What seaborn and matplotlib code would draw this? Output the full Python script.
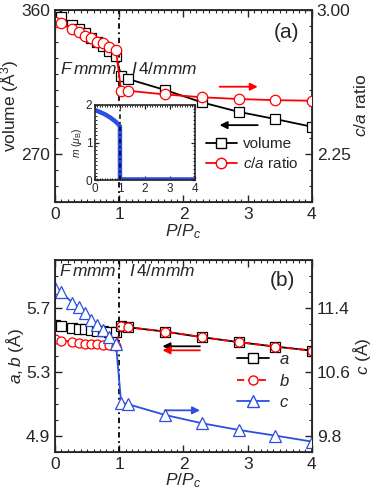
import numpy as np
import pandas as pd
import matplotlib
matplotlib.use("Agg")
import matplotlib.pyplot as plt
from matplotlib.ticker import MultipleLocator, AutoMinorLocator, FixedLocator
from matplotlib.lines import Line2D
import seaborn as sns

# ---------- data ----------
p_low = [0.0, 0.086, 0.27, 0.37, 0.47, 0.56, 0.65, 0.745, 0.845, 0.95]
p_high = [1.03, 1.14, 1.71, 2.29, 2.86, 3.43, 4.0]

volume = [357.0, 355.4, 350.5, 348.0, 345.3, 342.5, 340.0, 337.5, 334.5, 331.0,
          318.7, 316.8, 310.0, 302.2, 296.3, 291.8, 287.0]
ca_ratio = [2.935, 2.930, 2.900, 2.884, 2.866, 2.852, 2.835, 2.826, 2.809, 2.790,
            2.579, 2.579, 2.560, 2.545, 2.536, 2.530, 2.527]

a_len = [5.594, 5.588, 5.573, 5.569, 5.567, 5.562, 5.558, 5.556, 5.552, 5.550,
         5.588, 5.579, 5.552, 5.517, 5.486, 5.458, 5.433]
b_len = [5.504, 5.496, 5.490, 5.479, 5.475, 5.475, 5.473, 5.469, 5.469, 5.4625,
         5.588, 5.579, 5.552, 5.517, 5.486, 5.458, 5.433]
c_len = [11.646, 11.604, 11.466, 11.409, 11.341, 11.25, 11.188, 11.125, 11.041, 10.946,
         10.216, 10.196, 10.063, 9.958, 9.875, 9.804, 9.729]

m_p = [0.0, 0.1, 0.2, 0.3, 0.4, 0.5, 0.6, 0.7, 0.8, 0.9, 0.98, 1.0, 1.0, 1.05, 1.5, 2.0, 2.5, 3.0, 3.5, 4.0]
m_val = [1.86, 1.84, 1.81, 1.78, 1.75, 1.71, 1.67, 1.62, 1.57, 1.51, 1.45, 1.42, 0.03, 0.02, 0.02, 0.02, 0.02, 0.02, 0.02, 0.02]

ab_ticks = [4.9, 5.3, 5.7]
c_ticks = [9.8, 10.6, 11.4]

p_all = p_low + p_high
df = pd.DataFrame({"P": p_all, "volume": volume, "ca": ca_ratio,
                   "a": a_len, "b": b_len, "c": c_len})
df_m = pd.DataFrame({"P": m_p, "m": m_val})

sns.set_style("ticks")
plt.rcParams["font.family"] = ["Liberation Sans", "DejaVu Sans"]
plt.rcParams["mathtext.fontset"] = "custom"
plt.rcParams["mathtext.rm"] = "Liberation Sans"
plt.rcParams["mathtext.it"] = "Liberation Sans:italic"

fig = plt.figure(figsize=(3.74, 4.95), dpi=100)
ax1 = fig.add_axes([0.147, 0.592, 0.687, 0.388])
ax2 = fig.add_axes([0.147, 0.087, 0.687, 0.388])

FS = 12.5
BLUE = "#2b4fe0"


def style_x(ax):
    ax.set_xlim(0, 4)
    ax.xaxis.set_major_locator(MultipleLocator(1))
    ax.xaxis.set_minor_locator(MultipleLocator(0.1))
    ax.tick_params(axis="x", which="both", direction="in", top=True, bottom=True, labelsize=FS)
    ax.tick_params(axis="x", which="major", length=5, width=1)
    ax.tick_params(axis="x", which="minor", length=2.5, width=0.8)
    ax.set_xlabel("$P/P_c$", fontsize=FS, labelpad=0)
    for s in ax.spines.values():
        s.set_linewidth(1.3)


def style_y(ax, lo, hi, major, minor, right=False):
    ax.set_ylim(lo, hi)
    if isinstance(major, list):
        ax.yaxis.set_major_locator(FixedLocator(major))
    else:
        ax.yaxis.set_major_locator(MultipleLocator(major))
    ax.yaxis.set_minor_locator(MultipleLocator(minor))
    ax.tick_params(axis="y", which="both", direction="in", labelsize=FS,
                   left=not right, right=right)
    ax.tick_params(axis="y", which="major", length=5, width=1)
    ax.tick_params(axis="y", which="minor", length=2.5, width=0.8)


# ---------- panel (a) ----------
sns.lineplot(data=df, x="P", y="volume", ax=ax1, color="black", lw=1.3, marker="s",
             markersize=6.5, markerfacecolor="white", markeredgecolor="black",
             markeredgewidth=0.9, estimator=None, sort=False)
style_x(ax1)
style_y(ax1, 240, 360, 90, 10)
ax1.set_ylabel("volume (Å$^3$)", fontsize=FS, labelpad=0)
ax1.axvline(1, color="black", ls=(0, (3, 2, 1, 2)), lw=1.3)

ax1r = ax1.twinx()
sns.lineplot(data=df, x="P", y="ca", ax=ax1r, color="red", lw=1.3, marker="o",
             markersize=7.5, markerfacecolor="white", markeredgecolor="red",
             markeredgewidth=0.9, estimator=None, sort=False)
style_y(ax1r, 2.0, 3.0, 0.75, 0.75 / 9, right=True)
ax1r.yaxis.set_major_formatter(matplotlib.ticker.FormatStrFormatter("%.2f"))
ax1r.set_ylabel("$c/a$ ratio", fontsize=FS, labelpad=2)
ax1r.set_xlabel("")

ax1r.annotate("", xy=(3.2, 2.6), xytext=(2.52, 2.6),
              arrowprops=dict(arrowstyle="-|>", color="red", lw=1.3, mutation_scale=11))
ax1r.annotate("", xy=(2.52, 2.4), xytext=(3.2, 2.4),
              arrowprops=dict(arrowstyle="-|>", color="black", lw=1.3, mutation_scale=11))

ax1r.text(0.08, 2.69, "$F\\,mmm$", fontsize=FS, va="center")
ax1r.text(1.19, 2.69, "$I\\,4/mmm$", fontsize=FS, va="center")
ax1r.text(3.4, 2.88, "(a)", fontsize=15, va="center")

handles_a = [
    Line2D([], [], color="black", lw=1.3, marker="s", markersize=6.5,
           markerfacecolor="white", markeredgecolor="black"),
    Line2D([], [], color="red", lw=1.3, marker="o", markersize=7.5,
           markerfacecolor="white", markeredgecolor="red"),
]
ax1r.legend(handles_a, ["volume", "$c/a$ ratio"], loc="lower right",
            bbox_to_anchor=(1.0, 0.09), frameon=False, fontsize=11,
            handlelength=2.0, handletextpad=0.4, labelspacing=0.3)

# inset
axin = fig.add_axes([0.254, 0.636, 0.267, 0.152])
sns.lineplot(data=df_m, x="P", y="m", ax=axin, color=BLUE, lw=3.2,
             estimator=None, sort=False)
axin.axvline(1, color="black", ls=(0, (3, 2, 1, 2)), lw=1.1)
axin.set_xlim(0, 4)
axin.set_ylim(0, 2)
axin.xaxis.set_major_locator(MultipleLocator(1))
axin.xaxis.set_minor_locator(MultipleLocator(0.1))
axin.yaxis.set_major_locator(MultipleLocator(1))
axin.yaxis.set_minor_locator(MultipleLocator(0.1))
axin.tick_params(which="both", direction="in", top=True, right=True, labelsize=8.5, pad=2)
axin.tick_params(which="major", length=3, width=0.9)
axin.tick_params(which="minor", length=1.5, width=0.7)
for s in axin.spines.values():
    s.set_linewidth(1.2)
axin.set_xlabel("")
axin.set_ylabel("$m$ ($\\mu_\\mathrm{B}$)", fontsize=7.5, labelpad=1)

# ---------- panel (b) ----------
sns.lineplot(data=df, x="P", y="a", ax=ax2, color="black", lw=1.3, marker="s",
             markersize=6.5, markerfacecolor="white", markeredgecolor="black",
             markeredgewidth=0.9, estimator=None, sort=False)
sns.lineplot(data=df, x="P", y="b", ax=ax2, color="red", lw=1.3, ls=(0, (4, 2)), marker="o",
             markersize=6.5, markerfacecolor="white", markeredgecolor="red",
             markeredgewidth=0.9, estimator=None, sort=False)
style_x(ax2)
style_y(ax2, 4.8, 6.0, ab_ticks, 0.1)
ax2.set_ylabel("$a,b$ (Å)", fontsize=FS, labelpad=0)
ax2.axvline(1, color="black", ls=(0, (3, 2, 1, 2)), lw=1.3)

ax2r = ax2.twinx()
sns.lineplot(data=df, x="P", y="c", ax=ax2r, color=BLUE, lw=1.3, marker="^",
             markersize=8, markerfacecolor="white", markeredgecolor=BLUE,
             markeredgewidth=0.9, estimator=None, sort=False)
style_y(ax2r, 9.6, 12.0, c_ticks, 0.2, right=True)
ax2r.set_ylabel("$c$ (Å)", fontsize=FS, labelpad=0)
ax2r.set_xlabel("")

ax2.annotate("", xy=(1.63, 5.46), xytext=(2.3, 5.46),
             arrowprops=dict(arrowstyle="-|>", color="black", lw=1.3, mutation_scale=11))
ax2.annotate("", xy=(1.63, 5.435), xytext=(2.3, 5.435),
             arrowprops=dict(arrowstyle="-|>", color="red", lw=1.3, mutation_scale=11))
ax2r.annotate("", xy=(2.3, 10.12), xytext=(1.67, 10.12),
              arrowprops=dict(arrowstyle="-|>", color=BLUE, lw=1.3, mutation_scale=11))

ax2.text(0.06, 5.93, "$F\\,mmm$", fontsize=FS, va="center")
ax2.text(1.15, 5.93, "$I\\,4/mmm$", fontsize=FS, va="center")
ax2.text(3.35, 5.87, "(b)", fontsize=15, va="center")

handles_b = [
    Line2D([], [], color="black", lw=1.3, marker="s", markersize=6.5,
           markerfacecolor="white", markeredgecolor="black"),
    Line2D([], [], color="red", lw=1.3, ls=(0, (4, 2)), marker="o", markersize=6.5,
           markerfacecolor="white", markeredgecolor="red"),
    Line2D([], [], color=BLUE, lw=1.3, marker="^", markersize=8,
           markerfacecolor="white", markeredgecolor=BLUE),
]
ax2r.legend(handles_b, ["$a$", "$b$", "$c$"], loc="center left",
            bbox_to_anchor=(0.65, 0.37), frameon=False, fontsize=12,
            handlelength=1.9, handletextpad=0.6, labelspacing=0.35)

fig.savefig("out.png", dpi=100)
